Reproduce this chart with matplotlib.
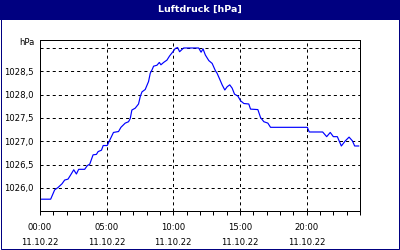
import matplotlib
matplotlib.use("Agg")
import matplotlib.pyplot as plt
from matplotlib.patches import Rectangle
from matplotlib.ticker import MultipleLocator

# Stunden ab 00:00 und Luftdruck in hPa
stunden = [
    0.0, 0.8, 1.1, 1.35, 1.65, 1.85, 2.1, 2.3, 2.53, 2.73, 2.9, 3.35, 3.55, 3.73,
    3.98, 4.23, 4.36, 4.61, 4.74, 5.04, 5.24, 5.51, 5.89, 6.07, 6.39, 6.64, 6.77,
    6.89, 7.14, 7.39, 7.52, 7.65, 7.89, 8.14, 8.27, 8.4, 8.52, 8.77, 8.95, 9.07,
    9.27, 9.52, 9.72, 9.97, 10.15, 10.32, 10.47, 10.73, 10.78, 11.9, 12.08, 12.23,
    12.4, 12.66, 12.91, 13.16, 13.28, 13.48, 13.66, 13.86, 14.04, 14.23, 14.41,
    14.59, 14.84, 15.04, 15.29, 15.66, 15.79, 16.34, 16.54, 16.79, 17.09, 17.29,
    20.05, 20.15, 20.2, 21.2, 21.5, 21.77, 22.0, 22.3, 22.6, 22.9, 23.18, 23.43,
    23.6, 23.9,
]
luftdruck = [
    1025.76, 1025.76, 1025.96, 1026.01, 1026.09, 1026.17, 1026.19, 1026.28,
    1026.39, 1026.30, 1026.40, 1026.40, 1026.48, 1026.51, 1026.71, 1026.72,
    1026.78, 1026.81, 1026.91, 1026.91, 1027.03, 1027.19, 1027.21, 1027.30,
    1027.39, 1027.42, 1027.49, 1027.67, 1027.71, 1027.80, 1027.96, 1028.06,
    1028.11, 1028.28, 1028.46, 1028.53, 1028.61, 1028.63, 1028.69, 1028.64,
    1028.69, 1028.74, 1028.83, 1028.92, 1028.99, 1029.01, 1028.92, 1028.99,
    1029.00, 1029.00, 1028.91, 1028.98, 1028.85, 1028.73, 1028.67, 1028.51,
    1028.46, 1028.33, 1028.21, 1028.10, 1028.17, 1028.21, 1028.14, 1028.01,
    1027.97, 1027.87, 1027.81, 1027.80, 1027.69, 1027.68, 1027.51, 1027.42,
    1027.39, 1027.30, 1027.30, 1027.23, 1027.20, 1027.20, 1027.10, 1027.19,
    1027.10, 1027.10, 1026.90, 1027.01, 1027.09, 1027.01, 1026.90, 1026.90,
]

x_ticks = [0, 5, 10, 15, 20]
x_labels = ["00:00\n11.10.22", "05:00\n11.10.22", "10:00\n11.10.22",
            "15:00\n11.10.22", "20:00\n11.10.22"]
y_ticks = [1026.0, 1026.5, 1027.0, 1027.5, 1028.0, 1028.5, 1029.0]
y_labels = ["1026,0", "1026,5", "1027,0", "1027,5", "1028,0", "1028,5", ""]

navy = "#000080"
px = 0.72  # 1 Pixel in Punkt bei dpi 100

plt.rcParams["font.family"] = ["DejaVu Sans"]
plt.rcParams["lines.scale_dashes"] = False

fig = plt.figure(figsize=(4, 2.5), dpi=100)
fig.patch.set_facecolor("white")

# Titelleiste und Rahmen
fig.patches.append(Rectangle((0, 230 / 250), 1, 20 / 250, transform=fig.transFigure,
                             facecolor=navy, edgecolor="none", zorder=0))
fig.patches.append(Rectangle((0.5 / 400, 1.5 / 250), 398.5 / 400, 247 / 250,
                             transform=fig.transFigure, facecolor="none",
                             edgecolor=navy, linewidth=px, zorder=1))
fig.text(0.5, 1 - 9.5 / 250, "Luftdruck [hPa]", color="white", fontsize=6.8,
         fontweight="bold", ha="center", va="center")

ax = fig.add_axes([40 / 400, 1 - 211 / 250, 320 / 400, 171 / 250])
ax.set_facecolor("white")

ax.plot(stunden, luftdruck, color="#0000FF", linewidth=0.85)

ax.set_xlim(0, 24)
ax.set_ylim(1025.507, 1029.171)

ax.set_xticks(x_ticks)
ax.set_xticklabels(x_labels, fontsize=6.1, linespacing=1.8)
ax.xaxis.set_minor_locator(MultipleLocator(1))
ax.set_yticks(y_ticks)
ax.set_yticklabels(y_labels, fontsize=6.1)

ax.tick_params(axis="x", which="both", direction="out", length=3, width=px,
               pad=6, colors="black")
ax.tick_params(axis="y", length=0, pad=4.5)

ax.annotate("hPa", xy=(0, 1029.0), xycoords=("axes fraction", "data"),
            xytext=(-5, 0.5), textcoords="offset pixels", ha="right",
            va="bottom", fontsize=6.1)

ax.grid(True, which="major", color="black", linestyle=(0, (2.2, 2.2)),
        linewidth=px)
for s in ax.spines.values():
    s.set_linewidth(px)
    s.set_color("black")

fig.savefig("out.png", dpi=100)
